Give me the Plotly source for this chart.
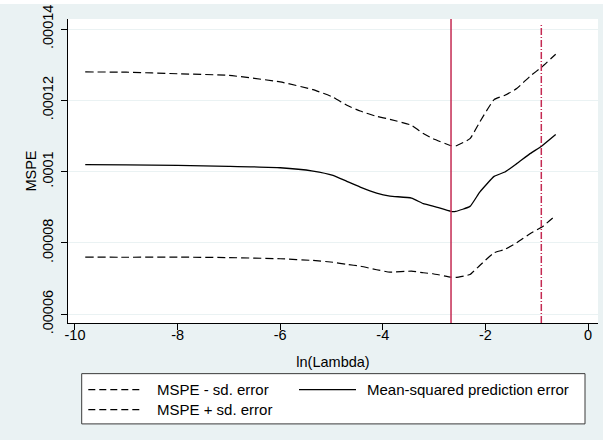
import plotly.graph_objects as go

# ---- data ----
ln_lambda = [-9.8, -9.0, -8.0, -7.0, -6.0, -5.36, -4.97, -4.7, -4.44, -4.12,
             -3.86, -3.44, -3.21, -3.02, -2.67, -2.58, -2.30, -2.11, -1.83,
             -1.62, -1.39, -1.13, -0.90, -0.63]
mspe = [1.0197, 1.0190, 1.0177, 1.0150, 1.0110, 1.0017, 0.9896, 0.9728, 0.9568,
        0.9400, 0.9315, 0.9259, 0.9102, 0.9034, 0.8886, 0.8886, 0.9026, 0.9427,
        0.9868, 0.9989, 1.0225, 1.0505, 1.0719, 1.1039]
mspe_upper = [1.2796, 1.2790, 1.2745, 1.2700, 1.2517, 1.2300, 1.2090, 1.1860,
              1.1700, 1.1550, 1.1468, 1.1300, 1.1067, 1.0926, 1.0730, 1.0719,
              1.0926, 1.1392, 1.2021, 1.2142, 1.2330, 1.2675, 1.2936, 1.3293]
mspe_lower = [0.7603, 0.7600, 0.7603, 0.7590, 0.7558, 0.7510, 0.7460, 0.7400,
              0.7350, 0.7250, 0.7182, 0.7210, 0.7165, 0.7137, 0.7041, 0.7033,
              0.7117, 0.7370, 0.7726, 0.7819, 0.8007, 0.8260, 0.8445, 0.8773]
scale = 1e-4
mspe = [v * scale for v in mspe]
mspe_upper = [v * scale for v in mspe_upper]
mspe_lower = [v * scale for v in mspe_lower]

lambda_cv = -2.67   # solid red line
lambda_1se = -0.91  # dashed red line

x_ticks = [-10, -8, -6, -4, -2, 0]
x_ticklabels = ["-10", "-8", "-6", "-4", "-2", "0"]
y_ticks = [0.00006, 0.00008, 0.0001, 0.00012, 0.00014]
y_ticklabels = [".00006", ".00008", ".0001", ".00012", ".00014"]

legend_labels = ["MSPE - sd. error", "Mean-squared prediction error", "MSPE + sd. error"]

# ---- layout geometry ----
W, H = 603, 440
L, R, T, B = 68, 5, 19, 117.3
PW = W - L - R
PH = H - T - B

def px(xp):
    return (xp - L) / PW

def py(yp):
    return (H - B - yp) / PH

FONT = "Liberation Sans, Arial, sans-serif"
BG = "#EAF2F3"
RED = "#C42A52"
DATA_DASH = "8px,4px"

fig = go.Figure()
fig.add_trace(go.Scatter(x=ln_lambda, y=mspe_lower, mode="lines", name=legend_labels[0],
                         line=dict(color="black", width=1.2, dash=DATA_DASH, shape="spline", smoothing=0.4)))
fig.add_trace(go.Scatter(x=ln_lambda, y=mspe, mode="lines", name=legend_labels[1],
                         line=dict(color="black", width=1.3, shape="spline", smoothing=0.4)))
fig.add_trace(go.Scatter(x=ln_lambda, y=mspe_upper, mode="lines", name=legend_labels[2],
                         line=dict(color="black", width=1.2, dash=DATA_DASH, shape="spline", smoothing=0.4)))

shapes = []
# vertical reference lines
shapes.append(dict(type="line", xref="x", yref="paper", x0=lambda_cv, x1=lambda_cv, y0=0, y1=1,
                   line=dict(color=RED, width=1.5), layer="above"))
shapes.append(dict(type="line", xref="x", yref="paper", x0=lambda_1se, x1=lambda_1se, y0=0, y1=py(23),
                   line=dict(color=RED, width=1.5, dash="7px,2px,1px,2px"), layer="above"))
# thin white strip on top of the image
shapes.append(dict(type="rect", xref="paper", yref="paper", x0=px(0), x1=px(W), y0=py(4), y1=py(0),
                   fillcolor="white", line=dict(width=0)))
# legend box
shapes.append(dict(type="rect", xref="paper", yref="paper", x0=px(81.7), x1=px(585), y0=py(423.5), y1=py(373.3),
                   fillcolor="white", line=dict(color="#3a3a3a", width=1)))

annotations = []
legend_items = [
    (88.3, 143.3, 155, 389.3, DATA_DASH, legend_labels[0]),
    (299, 356, 364.7, 389.3, "solid", legend_labels[1]),
    (88.3, 143.3, 155, 409.3, DATA_DASH, legend_labels[2]),
]
for x0, x1, xt, yc, dash, label in legend_items:
    shapes.append(dict(type="line", xref="paper", yref="paper", x0=px(x0), x1=px(x1), y0=py(yc), y1=py(yc),
                       line=dict(color="black", width=1.2, dash="7px,4px" if dash != "solid" else "solid")))
    annotations.append(dict(xref="paper", yref="paper", x=px(xt), y=py(yc), text=label, showarrow=False,
                            xanchor="left", yanchor="middle", font=dict(family=FONT, size=15, color="black")))

fig.update_layout(
    width=W, height=H,
    margin=dict(l=L, r=R, t=T, b=B, autoexpand=False),
    paper_bgcolor=BG, plot_bgcolor="white",
    showlegend=False,
    shapes=shapes, annotations=annotations,
    font=dict(family=FONT, size=14, color="black"),
    xaxis=dict(range=[-10.136, 0.195], tickvals=x_ticks, ticktext=x_ticklabels, ticks="outside", ticklen=6,
               tickcolor="black", showline=True, linecolor="black", linewidth=1, showgrid=False, zeroline=False,
               tickfont=dict(family=FONT, size=14.5, color="black"), ticklabelstandoff=-7,
               title=dict(text="ln(Lambda)", font=dict(family=FONT, size=14.5, color="black"), standoff=14)),
    yaxis=dict(range=[0.00005756, 0.00014281], tickvals=y_ticks, ticktext=y_ticklabels, tickangle=-90,
               ticks="outside", ticklen=6, tickcolor="black",
               showline=True, linecolor="black", linewidth=1, showgrid=True, gridcolor=BG, gridwidth=1,
               zeroline=False, tickfont=dict(family=FONT, size=14.5, color="black"), ticklabelstandoff=2,
               title=dict(text="MSPE", font=dict(family=FONT, size=14.5, color="black"), standoff=0)),
)

fig.write_html("out.html", config={"displayModeBar": False},
               post_script="document.body.style.margin='0';document.body.style.padding='0';")
